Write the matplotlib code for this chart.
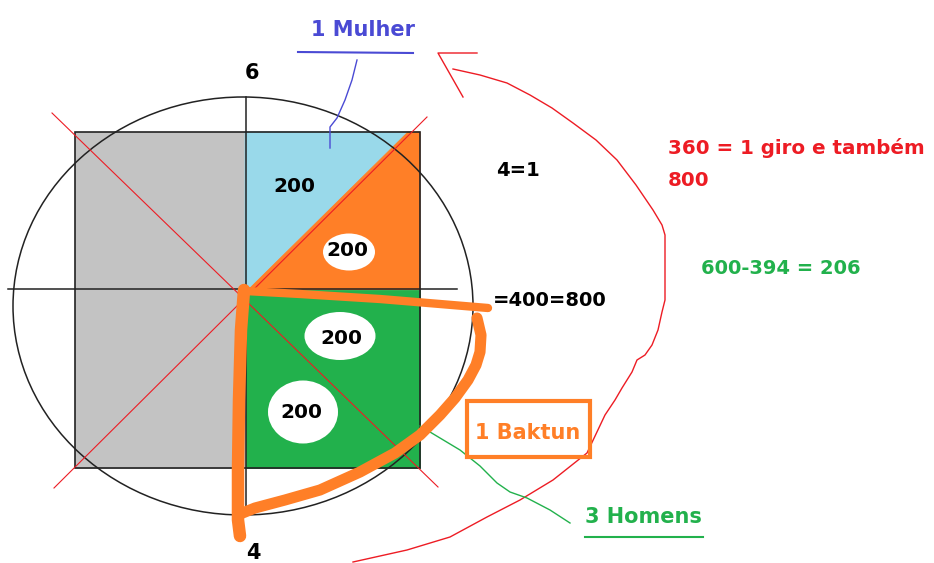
import numpy as np
import matplotlib
matplotlib.use("Agg")
import matplotlib.pyplot as plt
from matplotlib.patches import Polygon, Ellipse, Rectangle

# colours (paint palette)
GRAY = '#c3c3c3'
BLUE_FILL = '#99d9ea'
ORANGE = '#ff7f27'
GREEN = '#22b14c'
RED = '#ed1c24'
INDIGO = '#4a4ad4'

# regions of the square (pixel coords, y downwards)
gray_poly = [(75, 132), (245, 132), (245, 468), (75, 468)]
blue_poly = [(245, 132), (408, 132), (248, 290), (245, 290)]
orange_poly = [(248, 290), (408, 132), (420, 132), (420, 290)]
green_poly = [(246, 290), (420, 290), (420, 468), (246, 468)]

# the big circle
circle_center = (243, 306)
circle_w, circle_h = 460, 418

# cross lines
hline_x = [8, 457]
hline_y = 289
vline_x = 246
vline_y = [97, 515]

# red diagonals
diag1_x, diag1_y = [52, 438], [113, 487]
diag2_x, diag2_y = [54, 427], [488, 117]

# white bubbles with the "200" values
bubbles = [(349, 252, 52, 37), (340, 336, 71, 48), (303, 412, 70, 63)]
values = ['200', '200', '200', '200']
value_pos = [(294, 187), (347, 251), (341, 338), (301, 412)]

# orange hand stroke
stroke_top_x = [245, 300, 380, 440, 488]
stroke_top_y = [291, 294, 299, 304, 308]
stroke_curve_x = [477, 481, 480, 476, 468, 455, 440, 420, 395, 360, 320, 285, 255, 240]
stroke_curve_y = [318, 335, 352, 365, 380, 398, 415, 435, 453, 472, 490, 500, 508, 514]
stroke_left_x = [244, 241, 239, 238, 238, 240]
stroke_left_y = [290, 330, 400, 470, 520, 536]

# red arrow arc
arc_x = [453, 480, 507, 530, 552, 573, 596, 617, 636, 653, 662, 665, 665, 662, 658, 652, 645,
         637, 632, 622, 615, 605, 587, 553, 520, 487, 450, 407, 353]
arc_y = [69, 75, 83, 95, 108, 123, 140, 160, 185, 210, 225, 235, 300, 312, 330, 345, 355,
         360, 372, 388, 400, 415, 453, 480, 500, 517, 537, 550, 562]
arrow_x = [477, 438, 463]
arrow_y = [53, 53, 97]

# pointer lines
blue_ptr_x = [357, 352, 345, 337, 330, 330]
blue_ptr_y = [60, 80, 100, 118, 127, 148]
green_ptr_x = [420, 440, 460, 480, 497, 510, 527, 550, 570]
green_ptr_y = [426, 438, 450, 466, 483, 492, 498, 510, 523]

fig = plt.figure(figsize=(9.34, 5.63), dpi=100)
ax = fig.add_axes([0, 0, 1, 1])
ax.set_xlim(0, 934)
ax.set_ylim(563, 0)
ax.axis('off')

for poly, col in [(gray_poly, GRAY), (blue_poly, BLUE_FILL), (orange_poly, ORANGE), (green_poly, GREEN)]:
    ax.add_patch(Polygon(poly, closed=True, facecolor=col, edgecolor=col, lw=0.6, zorder=1))
ax.add_patch(Rectangle((75, 132), 345, 336, fill=False, edgecolor='#222222', lw=1.2, zorder=2))

ax.add_patch(Ellipse(circle_center, circle_w, circle_h, fill=False, edgecolor='#222222', lw=1.1, zorder=3))
ax.plot(hline_x, [hline_y, hline_y], color='#222222', lw=1.1, zorder=3)
ax.plot([vline_x, vline_x], vline_y, color='#222222', lw=1.1, zorder=3)

ax.plot(diag1_x, diag1_y, color=RED, lw=0.8, zorder=4)
ax.plot(diag2_x, diag2_y, color=RED, lw=0.8, zorder=4)

for cx, cy, w, h in bubbles:
    ax.add_patch(Ellipse((cx, cy), w, h, facecolor='white', edgecolor='none', zorder=5))
for v, (x, y) in zip(values, value_pos):
    ax.text(x, y, v, fontsize=14.5, fontweight='bold', ha='center', va='center', zorder=6)

ax.plot(stroke_top_x, stroke_top_y, color=ORANGE, lw=6, solid_capstyle='round', zorder=7)
ax.plot(stroke_curve_x, stroke_curve_y, color=ORANGE, lw=8, solid_capstyle='round',
        solid_joinstyle='round', zorder=7)
ax.plot(stroke_left_x, stroke_left_y, color=ORANGE, lw=9, solid_capstyle='round', zorder=7)

ax.plot(arc_x, arc_y, color=RED, lw=1, zorder=4)
ax.plot(arrow_x, arrow_y, color=RED, lw=1, zorder=4)

ax.plot(blue_ptr_x, blue_ptr_y, color=INDIGO, lw=1, zorder=4)
ax.plot([298, 413], [52, 53], color=INDIGO, lw=1.5, zorder=4)
ax.plot(green_ptr_x, green_ptr_y, color=GREEN, lw=1, zorder=4)
ax.plot([585, 703], [537, 537], color=GREEN, lw=1.5, zorder=4)

ax.add_patch(Rectangle((467, 401), 123, 56, fill=False, edgecolor=ORANGE, lw=3, zorder=6))

txt = dict(fontweight='bold', va='center', zorder=8)
ax.text(363, 30, '1 Mulher', color=INDIGO, ha='center', fontsize=15, **txt)
ax.text(252, 73, '6', color='black', ha='center', fontsize=15, **txt)
ax.text(253, 553, '4', color='black', ha='center', fontsize=15, **txt)
ax.text(518, 170, '4=1', color='black', ha='center', fontsize=14, **txt)
ax.text(493, 301, '=400=800', color='black', ha='left', fontsize=14, **txt)
ax.text(668, 148, '360 = 1 giro e também', color=RED, ha='left', fontsize=14.3, **txt)
ax.text(668, 180, '800', color=RED, ha='left', fontsize=14.3, **txt)
ax.text(701, 268, '600-394 = 206', color=GREEN, ha='left', fontsize=14, **txt)
ax.text(528, 433, '1 Baktun', color=ORANGE, ha='center', fontsize=15, **txt)
ax.text(643, 517, '3 Homens', color=GREEN, ha='center', fontsize=15, **txt)

fig.savefig('out.png', dpi=100)
